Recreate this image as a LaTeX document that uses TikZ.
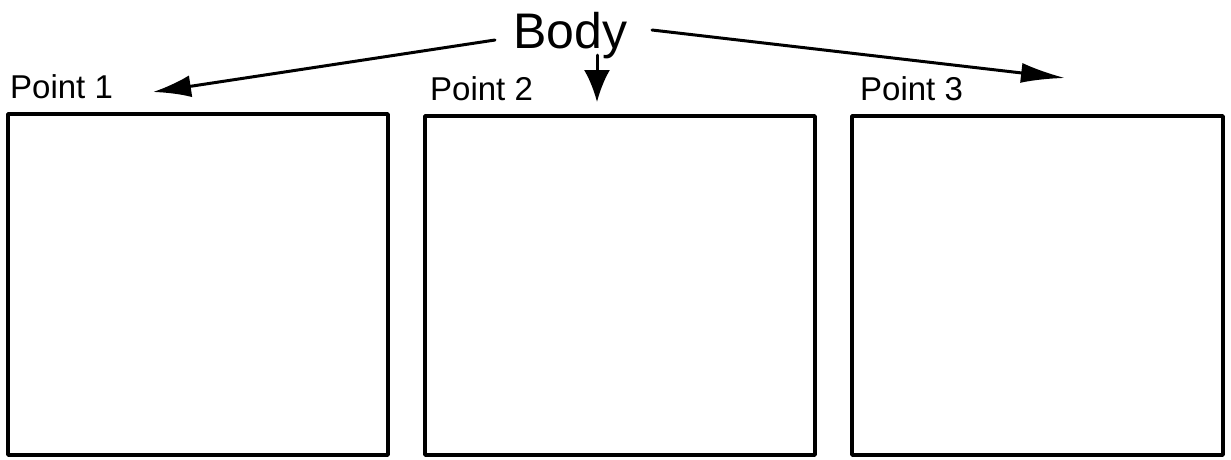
\documentclass[tikz,border=0pt]{standalone}
\usepackage{fontspec}
\setmainfont{Liberation Sans}
\usetikzlibrary{arrows.meta}
\begin{document}
\begin{tikzpicture}[x=1pt,y=-1pt,
  panel/.style={draw=black,line width=3.5pt,line join=round},
  lbl/.style={anchor=base west,inner sep=0pt,font=\fontsize{33}{36}\selectfont},
  conn/.style={line width=3pt,line cap=round,-{Latex[length=38pt,width=22pt]}}]
\useasboundingbox (0,0) rectangle (1231,459);
\fill[white] (0,0) rectangle (1231,459);
\draw[panel] (8,114) rectangle (388,455);
\draw[panel] (425,116) rectangle (815,455);
\draw[panel] (852,116) rectangle (1223,455);
\node[lbl] (p1) at (10,98) {Point 1};
\node[lbl] (p2) at (430,100) {Point 2};
\node[lbl] (p3) at (860,100) {Point 3};
\node[anchor=base west,inner sep=0pt,font=\fontsize{50}{54}\selectfont] (body) at (513,48) {Body};
\coordinate (bl) at (495,40);
\coordinate (bd) at (597,55);
\coordinate (br) at (652,30);
\coordinate (t1) at (153,92);
\coordinate (t2) at (597,102);
\coordinate (t3) at (1065,78);
\draw[conn] (bl) -- (t1);
\draw[conn,-{Latex[length=32pt,width=26pt]}] (bd) -- (t2);
\draw[conn,-{Latex[length=44pt,width=20pt]}] (br) -- (t3);
\end{tikzpicture}
\end{document}
